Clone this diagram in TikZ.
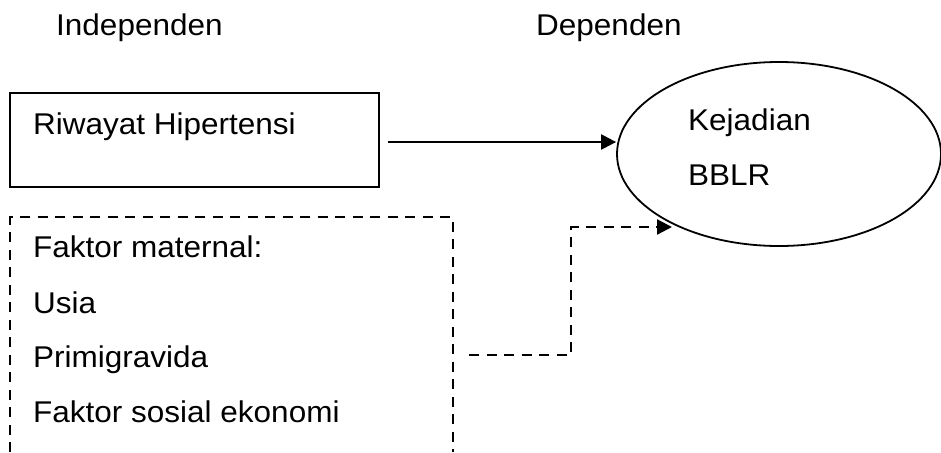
\documentclass[tikz,border=0pt]{standalone}
\usepackage{fontspec}
\setmainfont{Liberation Sans}[FakeStretch=1.05]
\usetikzlibrary{arrows.meta,shapes.geometric}
\tikzset{
  txt/.style={anchor=base west, inner sep=0pt, font=\fontsize{30}{36}\selectfont},
  solidbox/.style={draw, line width=2pt, rectangle, inner sep=0pt},
  dashline/.style={line width=2.2pt, dash pattern=on 10pt off 7.5pt},
  arr/.style={-{Triangle[length=15pt,width=15pt]}},
  ell/.style={draw, ellipse, line width=1.8pt, inner sep=0pt}
}
\begin{document}
\begin{tikzpicture}[x=1pt,y=-1pt]
\useasboundingbox (0,0) rectangle (941,452);
% headings
\node[txt] (ind) at (56,36) {Independen};
\node[txt] (dep) at (536,36) {Dependen};
% solid box
\node[solidbox, minimum width=369pt, minimum height=94pt] (riw) at (194.5,140) {};
\node[txt] (riwt) at (33,134) {Riwayat Hipertensi};
% dashed box (open at bottom)
\draw[dashline] (10,452) -- (10,217) -- (453,217) -- (453,452);
\node[txt] (f1) at (33,257) {Faktor maternal:};
\node[txt] (f2) at (33,313) {Usia};
\node[txt] (f3) at (33,367) {Primigravida};
\node[txt] (f4) at (33,422) {Faktor sosial ekonomi};
% ellipse
\node[ell, minimum width=324pt, minimum height=184pt] (kej) at (779,154) {};
\node[txt] (k1) at (688,130) {Kejadian};
\node[txt] (k2) at (688,185) {BBLR};
% solid arrow
\draw[line width=2.3pt, arr] ([xshift=8pt,yshift=-2pt]riw.east) -- ([yshift=-2pt]riw.east -| kej.west);
% dashed arrow
\coordinate (dstart) at (469,355);
\coordinate (dend) at (672,227);
\draw[dashline, arr] (dstart) -- (571,355) -- (571,227) -- (dend);
\end{tikzpicture}
\end{document}
